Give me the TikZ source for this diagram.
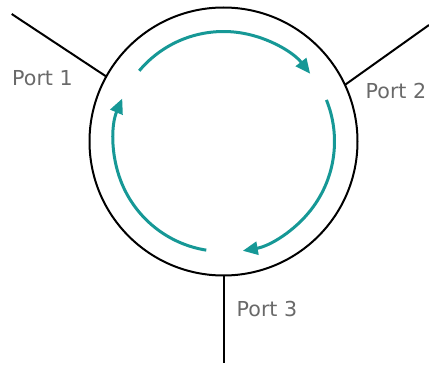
\documentclass[tikz,border=0pt]{standalone}
\usepackage{fontspec}
\setmainfont{DejaVu Sans}
\usetikzlibrary{arrows.meta}
\definecolor{tealc}{RGB}{22,152,150}
\definecolor{labelgray}{RGB}{105,105,105}
\begin{document}
\begin{tikzpicture}[x=1pt,y=1pt,
  portline/.style={draw=black,line width=2pt},
  flow/.style={draw=tealc,line width=3pt,-{Triangle[length=15pt,width=13pt]}},
  portlabel/.style={anchor=base west,inner sep=0pt,text=labelgray,font=\fontsize{20.6}{24}\selectfont}]
\useasboundingbox (0,0) rectangle (429,365);
\node[circle,draw=black,line width=2pt,minimum size=268pt,inner sep=0pt,outer sep=0pt] (ring) at (223.5,223.5) {};
\coordinate (c) at (223.5,223.5);
\coordinate (p1) at (11.7,351);
\coordinate (p2) at (429,340);
\coordinate (p3) at (223.5,2);
\draw[portline] (ring.151.6) -- (p1);
\draw[portline] (ring.25.4) -- (p2);
\draw[portline] (ring.south) -- (p3);
\draw[flow] ([shift={(140:110)}]c) arc[start angle=140,end angle=38,radius=110];
\draw[flow] ([shift={(22:111)}]c) arc[start angle=22,end angle=-80,radius=111];
\draw[flow] ([shift={(261:110)}]c) arc[start angle=261,end angle=157,radius=110];
\node[portlabel] (l1) at (12,279) {Port 1};
\node[portlabel] (l2) at (365.5,266.5) {Port 2};
\node[portlabel] (l3) at (236.5,48.5) {Port 3};
\end{tikzpicture}
\end{document}
